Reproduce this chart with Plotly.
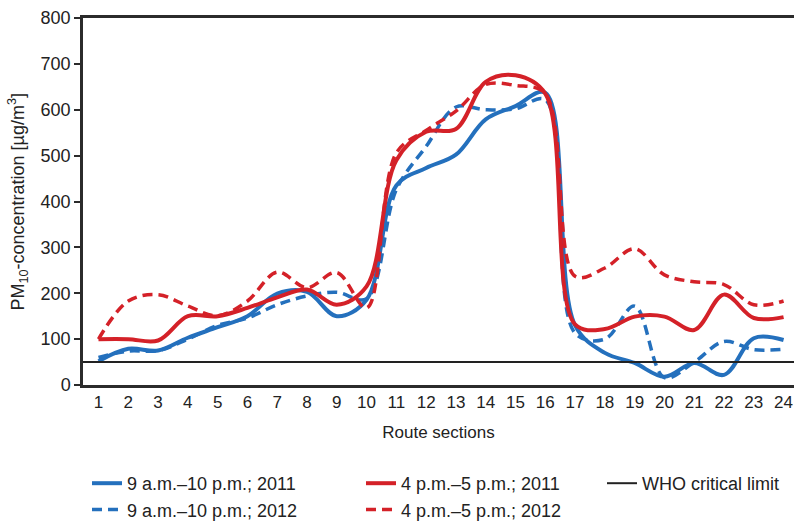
import plotly.graph_objects as go

sections = list(range(1, 25))
tick_labels = [str(s) for s in sections]

blue_2011 = [52, 79, 75, 103, 126, 150, 199, 203, 150, 186, 435, 473, 502, 579, 608, 637,
             130, 70, 48, 18, 48, 22, 102, 98]
blue_2012 = [60, 74, 75, 100, 130, 146, 175, 194, 202, 188, 426, 520, 606, 600, 602, 622,
             113, 100, 172, 16, 50, 95, 77, 78]
red_2011 = [100, 100, 97, 150, 150, 168, 191, 208, 175, 215, 490, 552, 558, 661, 675, 635,
            132, 122, 149, 149, 120, 197, 146, 148]
red_2012 = [100, 183, 197, 172, 151, 183, 246, 212, 245, 168, 506, 555, 597, 655, 653, 635,
            237, 255, 297, 240, 225, 219, 175, 183]
who_limit = 50

BLUE = "#2470bd"
RED = "#d42128"
FONT = "Liberation Sans, Arial, sans-serif"

fig = go.Figure()

fig.add_trace(go.Scatter(x=sections, y=blue_2011, mode="lines", name="9 a.m.–10 p.m.; 2011",
                         line=dict(color=BLUE, width=4, shape="spline", smoothing=1.0),
                         legend="legend"))
fig.add_trace(go.Scatter(x=sections, y=blue_2012, mode="lines", name="9 a.m.–10 p.m.; 2012",
                         line=dict(color=BLUE, width=3.5, dash="10px,6px", shape="spline", smoothing=1.0),
                         legend="legend"))
fig.add_trace(go.Scatter(x=sections, y=red_2011, mode="lines", name="4 p.m.–5 p.m.; 2011",
                         line=dict(color=RED, width=4, shape="spline", smoothing=1.0),
                         legend="legend2"))
fig.add_trace(go.Scatter(x=sections, y=red_2012, mode="lines", name="4 p.m.–5 p.m.; 2012",
                         line=dict(color=RED, width=3.5, dash="10px,6px", shape="spline", smoothing=1.0),
                         legend="legend2"))
x_lo, x_hi = 0.48, 24.35
fig.add_trace(go.Scatter(x=[x_lo, x_hi], y=[who_limit, who_limit], mode="lines",
                         name="WHO critical limit", line=dict(color="#222222", width=2),
                         legend="legend3"))

legend_common = dict(xref="container", yref="container", yanchor="top", xanchor="left",
                     orientation="v", font=dict(family=FONT, size=18, color="#222"),
                     bgcolor="rgba(0,0,0,0)", tracegroupgap=0, itemwidth=30)

fig.update_layout(
    width=794, height=522,
    margin=dict(l=83, r=0, t=18, b=137, autoexpand=False),
    plot_bgcolor="white", paper_bgcolor="white",
    font=dict(family=FONT, size=17, color="#222"),
    xaxis=dict(range=[x_lo, x_hi], tickmode="array", tickvals=sections, ticktext=tick_labels,
               showline=True, linecolor="#2b2b2b", linewidth=2.5, mirror=True, ticks="",
               showgrid=False, zeroline=False, tickfont=dict(size=17),
               ticklabeloverflow="allow",
               title=dict(text="Route sections", font=dict(size=17))),
    yaxis=dict(range=[0, 800], tickvals=[0, 100, 200, 300, 400, 500, 600, 700, 800],
               showline=True, linecolor="#2b2b2b", linewidth=2.5, ticks="outside",
               ticklen=6, tickwidth=2, tickcolor="#2b2b2b", showgrid=False, zeroline=False,
               tickfont=dict(size=18)),
    annotations=[dict(text="PM<sub>10</sub>-concentration [µg/m<sup>3</sup>]",
                      xref="paper", yref="paper", x=-(83 - 18) / 711, y=0.5,
                      xanchor="center", yanchor="middle", textangle=-90, showarrow=False,
                      font=dict(family=FONT, size=18, color="#222"))],
    legend=dict(x=87 / 794, y=1 - 465 / 522, **legend_common),
    legend2=dict(x=361 / 794, y=1 - 465 / 522, **legend_common),
    legend3=dict(x=602 / 794, y=1 - 465 / 522, **legend_common),
    showlegend=True,
)

fig.write_html("out.html", post_script="document.body.style.margin='0';",
               config={"displayModeBar": False})
